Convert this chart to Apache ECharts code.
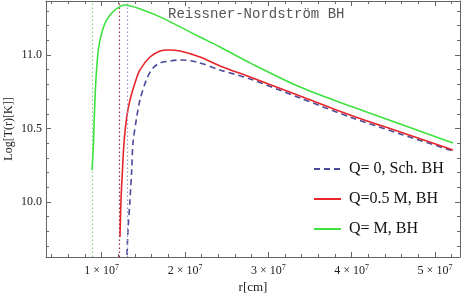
<!DOCTYPE html>
<html>
<head>
<meta charset="utf-8">
<script src="https://cdn.jsdelivr.net/npm/echarts@6/dist/echarts.min.js"></script>
<style>
html,body{margin:0;padding:0;background:#fff;}
#chart{width:463px;height:299px;}
</style>
</head>
<body>
<div id="chart"></div>
<script>
// ---- data (r in cm, Log T) ----
const seriesNames = ['Q= 0, Sch. BH', 'Q=0.5 M, BH', 'Q= M, BH'];

const rSch = [1.303e7, 1.315e7, 1.339e7, 1.360e7, 1.375e7, 1.420e7, 1.459e7, 1.540e7, 1.616e7, 1.700e7, 1.820e7, 1.940e7, 2.140e7, 2.420e7, 2.780e7, 3.380e7, 3.980e7, 4.581e7, 5.217e7];
const tSch = [9.639, 9.810, 10.014, 10.218, 10.401, 10.578, 10.694, 10.837, 10.912, 10.946, 10.959, 10.966, 10.952, 10.898, 10.837, 10.707, 10.578, 10.463, 10.347];

const rHalf = [1.219e7, 1.231e7, 1.249e7, 1.267e7, 1.300e7, 1.339e7, 1.399e7, 1.459e7, 1.579e7, 1.700e7, 1.796e7, 1.940e7, 2.180e7, 2.420e7, 2.780e7, 3.380e7, 3.980e7, 4.581e7, 5.217e7];
const tHalf = [9.762, 10.014, 10.218, 10.401, 10.578, 10.694, 10.810, 10.898, 10.986, 11.027, 11.034, 11.027, 10.986, 10.925, 10.850, 10.721, 10.592, 10.476, 10.354];

const rExt = [0.883e7, 0.899e7, 0.911e7, 0.928e7, 0.959e7, 1.000e7, 1.060e7, 1.159e7, 1.279e7, 1.495e7, 1.700e7, 2.180e7, 2.420e7, 2.780e7, 3.380e7, 3.980e7, 4.581e7, 5.217e7];
const tExt = [10.218, 10.374, 10.578, 10.810, 11.034, 11.150, 11.238, 11.306, 11.340, 11.306, 11.259, 11.122, 11.054, 10.946, 10.782, 10.653, 10.531, 10.401];

// vertical dotted reference lines (r in cm)
const refLines = [1.303e7, 1.207e7, 0.883e7];

// axis ticks
const xMajor = [1e7, 2e7, 3e7, 4e7, 5e7];
const yMajor = [10.0, 10.5, 11.0];
const xMin = 0.331e7, xMax = 5.30e7;
const yMin = 9.626, yMax = 11.367;

const xMinor = [];
for (let i = 2; i <= 26; i++) { if (i % 5 !== 0) xMinor.push(i * 0.2e7); }
const yMinor = [];
for (let i = 97; i <= 113; i++) { if (i % 5 !== 0) yMinor.push(i / 10); }

const colors = ['#4b4b9c', '#e8252a', '#3ee23e'];
const refColors = ['#9a9ac8', '#a3283c', '#7fd87f'];
const frameColor = '#666';
const serif = 'Liberation Serif';

function pairs(xs, ys) { return xs.map((x, i) => [x, ys[i]]); }

const chart = echarts.init(document.getElementById('chart'), null, {renderer: 'canvas'});

function xAxisDef(pos, values, len, showLine, labels) {
  const a = {
    type: 'value', position: pos, min: xMin, max: xMax,
    axisLine: {show: showLine, onZero: false, lineStyle: {color: frameColor, width: 1}},
    axisTick: {show: true, inside: true, length: len, customValues: values, lineStyle: {color: frameColor, width: 1}},
    axisLabel: {show: false},
    splitLine: {show: false}
  };
  if (labels) {
    a.axisLabel = {
      show: true, customValues: xMajor, margin: 7,
      formatter: v => '{b|' + Math.round(v / 1e7) + ' × 10}{s|7}',
      rich: {
        b: {fontFamily: serif, fontSize: 12, color: '#222', lineHeight: 14},
        s: {fontFamily: serif, fontSize: 8, color: '#222', verticalAlign: 'top', lineHeight: 8}
      }
    };
    a.name = 'r[cm]';
    a.nameLocation = 'middle';
    a.nameGap = 24;
    a.nameMoveOverlap = false;
    a.nameTextStyle = {fontFamily: serif, fontSize: 13, color: '#222'};
  }
  return a;
}
function yAxisDef(pos, values, len, showLine, labels) {
  const a = {
    type: 'value', position: pos, min: yMin, max: yMax,
    axisLine: {show: showLine, onZero: false, lineStyle: {color: frameColor, width: 1}},
    axisTick: {show: true, inside: true, length: len, customValues: values, lineStyle: {color: frameColor, width: 1}},
    axisLabel: {show: false},
    splitLine: {show: false}
  };
  if (labels) {
    a.axisLabel = {
      show: true, customValues: yMajor, margin: 4,
      formatter: v => v.toFixed(1),
      fontFamily: serif, fontSize: 12, color: '#222'
    };
    a.name = 'Log[T(r)[K]]';
    a.nameLocation = 'middle';
    a.nameGap = 31;
    a.nameMoveOverlap = false;
    a.nameTextStyle = {fontFamily: serif, fontSize: 12, color: '#222'};
  }
  return a;
}

const datasets = [pairs(rSch, tSch), pairs(rHalf, tHalf), pairs(rExt, tExt)];

const option = {
  animation: false,
  backgroundColor: '#fff',
  title: {
    text: 'Reissner-Nordström BH', left: 168, top: 7, padding: 0,
    textStyle: {fontFamily: 'Liberation Mono', fontSize: 14, fontWeight: 'normal', color: '#555'}
  },
  grid: {left: 46, right: 3, top: 1, bottom: 42, containLabel: false, outerBoundsMode: 'none'},
  legend: {
    orient: 'vertical', left: 313, top: 161, padding: 0,
    itemWidth: 27, itemHeight: 14, itemGap: 14,
    data: seriesNames,
    itemStyle: {opacity: 0},
    textStyle: {fontFamily: serif, fontSize: 16, color: '#111', padding: [0, 0, 0, 3]}
  },
  xAxis: [
    xAxisDef('bottom', xMajor, 5, true, true),
    xAxisDef('bottom', xMinor, 3, false, false),
    xAxisDef('top', xMajor, 5, true, false),
    xAxisDef('top', xMinor, 3, false, false)
  ],
  yAxis: [
    yAxisDef('left', yMajor, 5, true, true),
    yAxisDef('left', yMinor, 3, false, false),
    yAxisDef('right', yMajor, 5, true, false),
    yAxisDef('right', yMinor, 3, false, false)
  ],
  series: datasets.map((d, i) => ({
    name: seriesNames[i],
    type: 'line',
    xAxisIndex: 0, yAxisIndex: 0,
    data: d,
    symbol: 'none',
    smooth: 0.3,
    clip: true,
    z: 3 + i,
    lineStyle: {color: colors[i], width: 1.6, type: i === 0 ? [6, 4] : 'solid'},
    itemStyle: {color: colors[i]},
    markLine: {
      silent: true, symbol: 'none', label: {show: false},
      lineStyle: {color: refColors[i], type: [1.5, 2.5], width: 1.2},
      data: [{xAxis: refLines[i]}]
    }
  }))
};
chart.setOption(option);
</script>
</body>
</html>
